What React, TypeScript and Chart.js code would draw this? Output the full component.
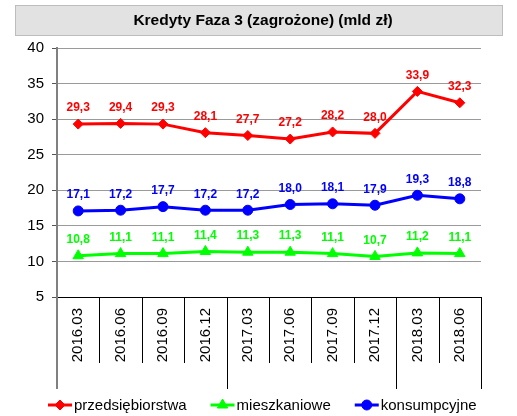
import React, { useEffect, useRef } from 'react';
import { Chart, registerables } from 'chart.js';

Chart.register(...registerables);

const chartTitle = 'Kredyty Faza 3 (zagrożone) (mld zł)';
const categories = ['2016.03', '2016.06', '2016.09', '2016.12', '2017.03', '2017.06', '2017.09', '2017.12', '2018.03', '2018.06'];
const przedsiebiorstwa = [29.3, 29.4, 29.3, 28.1, 27.7, 27.2, 28.2, 28.0, 33.9, 32.3];
const mieszkaniowe = [10.8, 11.1, 11.1, 11.4, 11.3, 11.3, 11.1, 10.7, 11.2, 11.1];
const konsumpcyjne = [17.1, 17.2, 17.7, 17.2, 17.2, 18.0, 18.1, 17.9, 19.3, 18.8];
const yMin = 5;
const yMax = 40;
const yStep = 5;

const FONT = '"Liberation Sans", Arial, sans-serif';

const fmt = (v: number) => v.toFixed(1).replace('.', ',');

const decorPlugin = {
  id: 'decor',
  beforeDraw(chart: any) {
    const ctx = chart.ctx;
    ctx.save();
    ctx.fillStyle = '#e2e2e2';
    ctx.fillRect(15.5, 5.5, 487, 30);
    ctx.strokeStyle = '#bdbdbd';
    ctx.lineWidth = 1;
    ctx.strokeRect(15.5, 5.5, 487, 30);
    ctx.fillStyle = '#000';
    ctx.font = `bold 15.5px ${FONT}`;
    ctx.textAlign = 'center';
    ctx.textBaseline = 'middle';
    ctx.fillText(chartTitle, 263, 21);
    ctx.restore();
  },
  afterDatasetsDraw(chart: any) {
    const ctx = chart.ctx;
    ctx.save();
    ctx.font = `bold 12px ${FONT}`;
    ctx.textAlign = 'center';
    ctx.textBaseline = 'middle';
    chart.data.datasets.forEach((ds: any, di: number) => {
      const meta = chart.getDatasetMeta(di);
      ctx.fillStyle = ds.borderColor;
      meta.data.forEach((pt: any, i: number) => {
        ctx.fillText(fmt(ds.data[i]), pt.x, pt.y - 16);
      });
    });
    ctx.restore();
  },
  afterDraw(chart: any) {
    const ctx = chart.ctx;
    const xs = chart.scales.x;
    const bottom = chart.chartArea.bottom;
    const n = categories.length;
    ctx.save();
    // category separators
    for (let i = 0; i <= n; i++) {
      const px = Math.round(xs.getPixelForValue(i - 0.5));
      const long = i === 0 || i === n || categories[i].slice(0, 4) !== categories[i - 1].slice(0, 4);
      ctx.beginPath();
      if (i === 0) {
        ctx.strokeStyle = '#808080';
        ctx.lineWidth = 2;
        ctx.moveTo(px, bottom);
      } else {
        ctx.strokeStyle = '#000';
        ctx.lineWidth = 1;
        ctx.moveTo(px + 0.5, bottom);
      }
      const len = long ? 92 : 66;
      ctx.lineTo(i === 0 ? px : px + 0.5, bottom + len);
      ctx.stroke();
    }
    // legend
    ctx.font = `15px ${FONT}`;
    ctx.textBaseline = 'middle';
    ctx.textAlign = 'left';
    const ly = 405;
    let lx = 48;
    chart.data.datasets.forEach((ds: any) => {
      ctx.strokeStyle = ds.borderColor;
      ctx.lineWidth = 3;
      ctx.beginPath();
      ctx.moveTo(lx, ly);
      ctx.lineTo(lx + 24, ly);
      ctx.stroke();
      ctx.fillStyle = ds.backgroundColor;
      ctx.strokeStyle = ds.borderColor;
      ctx.lineWidth = 1;
      (Chart as any).helpers?.drawPoint;
      drawMarker(ctx, ds.pointStyle, ds.pointRadius, lx + 12, ly);
      ctx.fillStyle = '#000';
      ctx.fillText(ds.label, lx + 26, ly + 1);
      lx += 26 + ctx.measureText(ds.label).width + 24;
    });
    ctx.restore();
  },
};

function drawMarker(ctx: CanvasRenderingContext2D, style: string, r: number, x: number, y: number) {
  ctx.beginPath();
  if (style === 'rectRot') {
    ctx.moveTo(x, y - r);
    ctx.lineTo(x + r, y);
    ctx.lineTo(x, y + r);
    ctx.lineTo(x - r, y);
  } else if (style === 'triangle') {
    const h = r * Math.sqrt(3) / 2;
    ctx.moveTo(x, y - r);
    ctx.lineTo(x + h, y + r / 2);
    ctx.lineTo(x - h, y + r / 2);
  } else {
    ctx.arc(x, y, r, 0, Math.PI * 2);
  }
  ctx.closePath();
  ctx.fill();
  ctx.stroke();
}

export default function App() {
  const ref = useRef<HTMLCanvasElement>(null);
  useEffect(() => {
    if (!ref.current) return;
    Chart.defaults.font.family = FONT;
    const chart = new Chart(ref.current, {
      type: 'line',
      data: {
        labels: categories,
        datasets: [
          {
            label: 'przedsiębiorstwa',
            data: przedsiebiorstwa,
            borderColor: '#ff0000',
            backgroundColor: '#ff0000',
            borderWidth: 3,
            pointStyle: 'rectRot',
            pointRadius: 5,
            pointBorderWidth: 1,
          },
          {
            label: 'mieszkaniowe',
            data: mieszkaniowe,
            borderColor: '#00ff00',
            backgroundColor: '#00ff00',
            borderWidth: 3,
            pointStyle: 'triangle',
            pointRadius: 6,
            pointBorderWidth: 1,
          },
          {
            label: 'konsumpcyjne',
            data: konsumpcyjne,
            borderColor: '#0000ff',
            backgroundColor: '#0000ff',
            borderWidth: 3,
            pointStyle: 'circle',
            pointRadius: 5,
            pointBorderWidth: 1,
          },
        ],
      },
      options: {
        animation: false,
        responsive: false,
        maintainAspectRatio: false,
        layout: { padding: { top: 48, left: 0, right: 36, bottom: 27 } },
        plugins: {
          legend: { display: false },
          title: { display: false },
          tooltip: { enabled: false },
        },
        scales: {
          x: {
            type: 'category',
            offset: true,
            grid: { display: false, drawTicks: false },
            border: { display: true, color: '#000', width: 1 },
            ticks: {
              color: '#000',
              font: { size: 15 },
              minRotation: 90,
              maxRotation: 90,
              padding: 11,
              autoSkip: false,
            },
            afterFit: (s: any) => { s.height = 92; },
          },
          y: {
            min: yMin,
            max: yMax,
            ticks: { stepSize: yStep, color: '#000', font: { size: 15 }, padding: 8 },
            grid: {
              color: '#9a9a9a',
              lineWidth: 1,
              borderDash: [3, 2],
              tickLength: 5,
              tickColor: '#555',
              tickBorderDash: [1, 0],
            } as any,
            border: { display: true, color: '#808080', width: 2 },
            afterFit: (s: any) => { s.width = 57; },
          },
        },
      },
      plugins: [decorPlugin],
    } as any);
    return () => chart.destroy();
  }, []);
  return (
    <div style={{ position: 'fixed', left: 0, top: 0, width: 517, height: 416, background: '#fff' }}>
      <canvas ref={ref} width={517} height={416} style={{ display: 'block' }} />
    </div>
  );
}
